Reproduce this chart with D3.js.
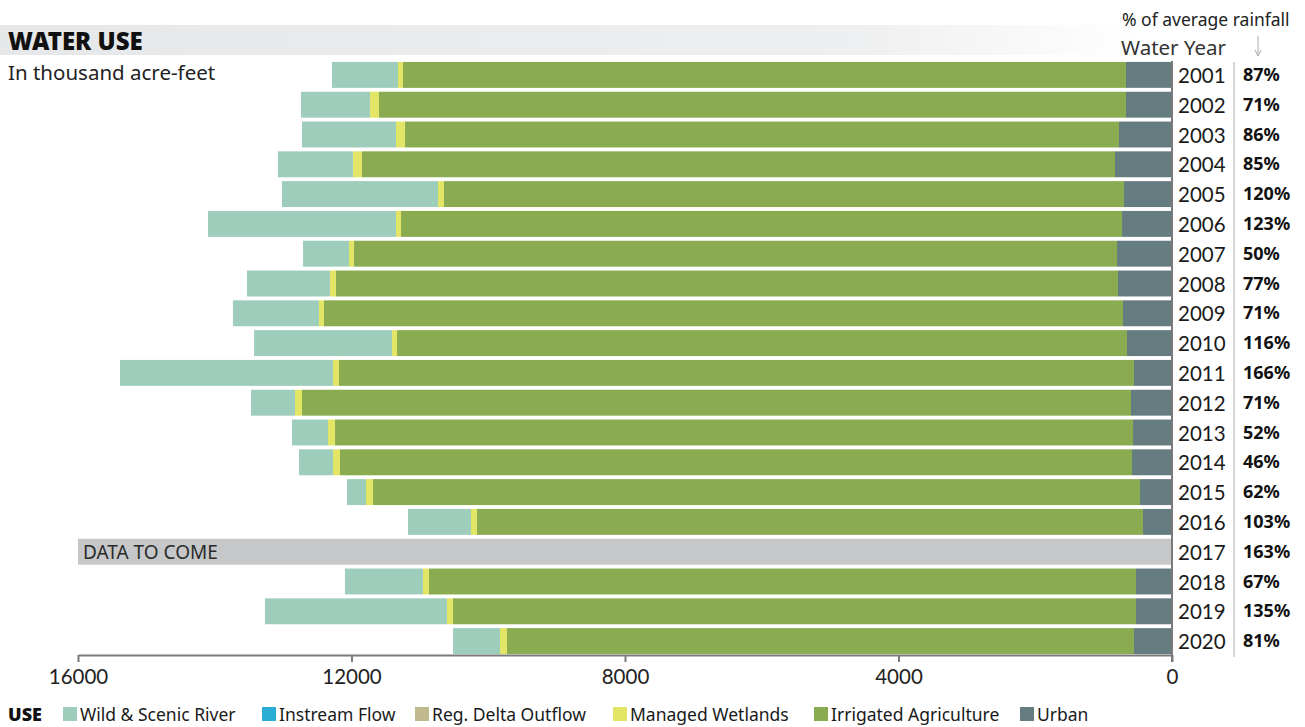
<!DOCTYPE html>
<html>
<head>
<meta charset="utf-8">
<script src="https://cdn.jsdelivr.net/npm/d3@7"></script>
<style>
  body { margin: 0; background: #fff; }
  svg { font-family: "Noto Sans", Lato, sans-serif; display: block; }
  .axis text { font-size: 20.5px; fill: #222; font-family: Lato, sans-serif; }
  .axis path, .axis line { stroke: #7a7a7a; stroke-width: 2; }
</style>
</head>
<body>
<div id="chart"></div>
<script>
// water year, thousand acre-feet (null = data to come)
const years = [2001,2002,2003,2004,2005,2006,2007,2008,2009,2010,2011,2012,2013,2014,2015,2016,2017,2018,2019,2020];
const wildScenic      = [965,1009,1375,1097,2282,2750,673,1214,1258,2018,3115,644,527,497,278,921,null,1141,2662,687];
const instreamFlow    = [0,0,0,0,0,0,0,0,0,0,0,0,0,0,0,0,null,0,0,0];
const regDeltaOutflow = [0,0,0,0,0,0,0,0,0,0,0,0,0,0,0,0,null,0,0,0];
const managedWetlands = [73,132,132,132,88,73,73,88,73,73,88,102,102,102,102,88,null,88,88,102];
const irrigatedAg     = [10574,10925,10442,11013,9945,10545,11159,11437,11686,10676,11627,12124,11671,11583,11218,9740,null,10340,9989,9170];
const urban           = [673,673,775,834,702,731,804,790,717,658,556,600,570,585,468,424,null,527,527,556];
const rainfallPct     = [87,71,86,85,120,123,50,77,71,116,166,71,52,46,62,103,163,67,135,81];
const xTicks = [16000,12000,8000,4000,0];

const useKeys   = ["urban","irrigatedAg","managedWetlands","regDeltaOutflow","instreamFlow","wildScenic"];
const useLabels = {wildScenic:"Wild & Scenic River", instreamFlow:"Instream Flow", regDeltaOutflow:"Reg. Delta Outflow",
                   managedWetlands:"Managed Wetlands", irrigatedAg:"Irrigated Agriculture", urban:"Urban"};
const useColors = {wildScenic:"#9fcdbc", instreamFlow:"#2aaed6", regDeltaOutflow:"#c0b98e",
                   managedWetlands:"#e2e566", irrigatedAg:"#8aab50", urban:"#657d81"};
const legendOrder = ["wildScenic","instreamFlow","regDeltaOutflow","managedWetlands","irrigatedAg","urban"];

let width = 1305, height = 727;

let rows = years.map((y,i) => ({
  year: y, pct: rainfallPct[i], missing: urban[i] == null,
  wildScenic: wildScenic[i] || 0, instreamFlow: instreamFlow[i] || 0, regDeltaOutflow: regDeltaOutflow[i] || 0,
  managedWetlands: managedWetlands[i] || 0, irrigatedAg: irrigatedAg[i] || 0, urban: urban[i] || 0
}));

let xScale = d3.scaleLinear().domain([16000,0]).range([78,1172]);
let yScale = d3.scaleBand().domain(years).range([60,656]).paddingInner(0.13).paddingOuter(0.065);

let svg = d3.select("#chart").append("svg").attr("width",width).attr("height",height);

// header band
let grad = svg.append("defs").append("linearGradient").attr("id","hdr").attr("x1","0").attr("x2","1");
grad.append("stop").attr("offset","0").attr("stop-color","#e6e7e8");
grad.append("stop").attr("offset","0.75").attr("stop-color","#eeeff0");
grad.append("stop").attr("offset","1").attr("stop-color","#ffffff");
svg.append("rect").attr("x",0).attr("y",25).attr("width",1140).attr("height",30).attr("fill","url(#hdr)");

svg.append("text").attr("x",8).attr("y",50).style("font-size","24px").style("font-weight","900")
  .attr("fill","#111").text("WATER USE");
svg.append("text").attr("x",8).attr("y",80).style("font-size","20.5px").attr("fill","#222").text("In thousand acre-feet");

svg.append("text").attr("x",1122).attr("y",26).style("font-size","17.5px").attr("fill","#222").text("% of average rainfall");
svg.append("text").attr("x",1121).attr("y",55).style("font-size","20.5px").attr("fill","#333").text("Water Year");
svg.append("path").attr("d","M1258,36 L1258,55 M1255,50 L1258,56 L1261,50")
  .attr("fill","none").attr("stroke","#aaa").attr("stroke-width",1);

// stacked bars
let stack = d3.stack().keys(useKeys);
let series = stack(rows);

svg.append("g").selectAll("g").data(series).enter()
  .append("g").attr("fill", d => useColors[d.key])
  .selectAll("rect").data(d => d.filter(p => !p.data.missing && p[1] > p[0])).enter()
  .append("rect")
  .attr("x", d => xScale(d[1]))
  .attr("y", d => yScale(d.data.year))
  .attr("width", d => xScale(d[0]) - xScale(d[1]))
  .attr("height", yScale.bandwidth());

// data to come
let missing = rows.filter(r => r.missing);
svg.append("g").selectAll("rect").data(missing).enter().append("rect")
  .attr("x", xScale(16000)).attr("y", d => yScale(d.year))
  .attr("width", xScale(0) - xScale(16000)).attr("height", yScale.bandwidth())
  .attr("fill","#c6c7c9");
svg.append("g").selectAll("text").data(missing).enter().append("text")
  .attr("x", xScale(16000) + 5).attr("y", d => yScale(d.year) + yScale.bandwidth()/2 + 7)
  .style("font-size","19px").attr("fill","#2a2a2a").text("DATA TO COME");

// x axis
let xAxis = d3.axisBottom(xScale).tickValues(xTicks).tickSize(7).tickSizeOuter(0).tickPadding(7).tickFormat(d3.format("d"));
svg.append("g").attr("class","axis").attr("transform","translate(0,655)").call(xAxis);

// zero line
svg.append("line").attr("x1",xScale(0)).attr("x2",xScale(0)).attr("y1",61).attr("y2",662)
  .attr("stroke","#7a7a7a").attr("stroke-width",2);
// separator between year and rainfall
svg.append("line").attr("x1",1234).attr("x2",1234).attr("y1",62).attr("y2",657)
  .attr("stroke","#c8c8c8").attr("stroke-width",1.5);

// year + rainfall labels
svg.append("g").selectAll("text").data(rows).enter().append("text")
  .attr("x",1178).attr("y", d => yScale(d.year) + yScale.bandwidth()/2 + 8)
  .style("font-size","20.5px").style("font-family","Lato, sans-serif").attr("fill","#1a1a1a").text(d => d.year);
svg.append("g").selectAll("text").data(rows).enter().append("text")
  .attr("x",1243).attr("y", d => yScale(d.year) + yScale.bandwidth()/2 + 6)
  .style("font-size","18px").style("font-weight","700").attr("fill","#111").text(d => d.pct + "%");

// legend
let legend = svg.append("g");
legend.append("text").attr("x",8).attr("y",721).style("font-size","18px").style("font-weight","900").attr("fill","#111").text("USE");
let legX = [63,262,415,613,814,1020];
let item = legend.selectAll("g").data(legendOrder).enter().append("g")
  .attr("transform",(d,i) => `translate(${legX[i]},0)`);
item.append("rect").attr("x",0).attr("y",707).attr("width",14).attr("height",14).attr("fill", d => useColors[d]);
item.append("text").attr("x",17).attr("y",721).style("font-size","17.5px").attr("fill","#1a1a1a").text(d => useLabels[d]);
</script>
</body>
</html>
